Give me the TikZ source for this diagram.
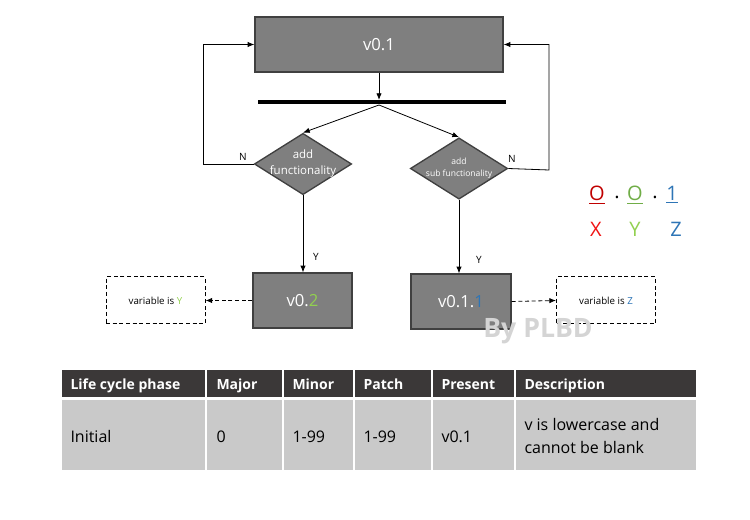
\documentclass[tikz,border=0pt]{standalone}
\usepackage{fontspec}
\setmainfont{Open Sans}
\usetikzlibrary{shapes.geometric,arrows.meta}

\definecolor{boxgray}{RGB}{127,127,127}
\definecolor{boxline}{RGB}{64,64,64}
\definecolor{headdark}{RGB}{59,56,56}
\definecolor{rowgray}{RGB}{201,201,201}
\definecolor{xred}{RGB}{192,0,0}
\definecolor{xbright}{RGB}{240,20,20}
\definecolor{ygreen}{RGB}{112,173,71}
\definecolor{ylight}{RGB}{146,208,80}
\definecolor{zblue}{RGB}{46,117,182}
\definecolor{markgray}{RGB}{212,212,212}

\tikzset{every picture/.style={line width=0.75pt},
  verbox/.style={draw=boxline, fill=boxgray, text=white, line width=1pt, inner sep=0pt, font=\fontsize{12.5}{15}\selectfont},
  decbox/.style={diamond, draw=boxline, fill=boxgray, line width=1pt, inner sep=0pt, minimum width=73pt, minimum height=46pt},
  declabel/.style args={#1/#2}{text=white, align=center, font=\fontsize{#1}{#2}\selectfont},
  varbox/.style={draw, dash pattern=on 3pt off 2pt, inner sep=0pt, minimum width=74.25pt, minimum height=35.25pt, font=\fontsize{7.3}{9}\selectfont},
  flow/.style={-{Latex[length=5pt,width=4pt]}, line width=0.6pt},
  dashflow/.style={flow, dash pattern=on 3pt off 2pt},
  yn/.style={inner sep=0.75pt, font=\fontsize{7.5}{9}\selectfont},
  legend/.style={inner sep=0.75pt, font=\fontsize{15}{18}\selectfont},
  headtxt/.style={anchor=base west, inner sep=0.75pt, text=white, font=\fontsize{10.5}{12}\selectfont\bfseries},
  celltxt/.style={anchor=base west, inner sep=0.75pt, align=left, font=\fontsize{12}{17}\selectfont},
}

\begin{document}
\begin{tikzpicture}[x=0.75pt,y=0.75pt,yscale=-1,xscale=1]
\useasboundingbox (0,0) rectangle (750,520);

%Shape: Rectangle [top version]
\node[verbox, minimum width=186pt, minimum height=41.25pt] (top) at (379,44.5) {v0.1};
%Shape: Bar
\node[fill=black, inner sep=0pt, minimum width=186pt, minimum height=3pt] (bar) at (382,102.5) {};
%Shape: Diamonds
\node[decbox, label={[declabel=8.6/12]center:add\\functionality}] (addf) at (303,164) {};
\node[decbox, label={[declabel=6.4/9]center:add\\sub functionality}] (addsub) at (459,168.5) {};
%Shape: Rectangle [next versions]
\node[verbox, minimum width=74.25pt, minimum height=41.25pt] (v02) at (302.5,300.5) {v0.\textcolor{ylight}{2}};
\node[verbox, minimum width=75pt, minimum height=41.25pt] (v011) at (461,301.5) {v0.1.\textcolor{zblue}{1}};
%Shape: Dashed boxes
\node[varbox] (varY) at (155.5,300.5) {variable is \textcolor{ylight}{Y}};
\node[varbox] (varZ) at (606,300.5) {variable is \textcolor{zblue}{Z}};

% loop corners
\coordinate (lloop) at (203,164);
\coordinate (rloop) at (549,170);

% connectors
\draw[flow] (top.south) -- (top.south |- bar.north);
\draw[flow] (top.south |- bar.south) -- (addf.north);
\draw[flow] (top.south |- bar.south) -- (addsub.north);
\draw[flow] (addf.west) -- (lloop) |- (top.west);
\draw[flow] (addsub.east) -- (rloop) |- (top.east);
\draw[flow] (addf.south) -- (addf.south |- v02.north);
\draw[flow] (addsub.south) -- (addsub.south |- v011.north);
\draw[dashflow] (v02.west) -- (varY.east);
\draw[dashflow] (v011.east) -- (varZ.west);

% Text Node
\node[yn] (nleft) at (243,157) {N};
\node[yn] (nright) at (512,159) {N};
\node[yn] (yleft) at (316,257) {Y};
\node[yn] (yright) at (479,260) {Y};

% Text Node [watermark]
\node[inner sep=0pt, text=markgray, font=\fontsize{20}{22}\selectfont\bfseries] (mark) at (538,331) {By PLBD};

% Text Node [legend]
\node[legend, text=xred] (majO) at (597,195) {\underline{O}};
\node[legend] (dot1) at (617,197) {.};
\node[legend, text=ygreen] (minO) at (635,195) {\underline{O}};
\node[legend] (dot2) at (655,197) {.};
\node[legend, text=zblue] (pat1) at (672,195) {\underline{1}};
\node[legend, text=xbright] (labX) at (596,229) {X};
\node[legend, text=ylight] (labY) at (635,229) {Y};
\node[legend, text=zblue] (labZ) at (676,229) {Z};

%Shape: Table header
\fill[headdark] (62,370) rectangle (205,397);
\fill[headdark] (207,370) rectangle (282,397);
\fill[headdark] (284,370) rectangle (353,397);
\fill[headdark] (355,370) rectangle (431,397);
\fill[headdark] (433,370) rectangle (514,397);
\fill[headdark] (516,370) rectangle (696,397);
%Shape: Table row
\fill[rowgray] (62,400) rectangle (205,470);
\fill[rowgray] (207,400) rectangle (282,470);
\fill[rowgray] (284,400) rectangle (353,470);
\fill[rowgray] (355,400) rectangle (431,470);
\fill[rowgray] (433,400) rectangle (514,470);
\fill[rowgray] (516,400) rectangle (696,470);

% Text Node [header]
\node[headtxt] (hphase) at (69,389) {Life cycle phase};
\node[headtxt] (hmajor) at (215,389) {Major};
\node[headtxt] (hminor) at (291,389) {Minor};
\node[headtxt] (hpatch) at (362,389) {Patch};
\node[headtxt] (hpresent) at (440,389) {Present};
\node[headtxt] (hdesc) at (523,389) {Description};
% Text Node [row]
\node[celltxt] (bphase) at (69,442) {Initial};
\node[celltxt] (bmajor) at (215,442) {0};
\node[celltxt] (bminor) at (291,442) {1-99};
\node[celltxt] (bpatch) at (362,442) {1-99};
\node[celltxt] (bpresent) at (440,442) {v0.1};
\node[celltxt] (bdesc) at (523,453) {v is lowercase and\\cannot be blank};

\end{tikzpicture}
\end{document}
